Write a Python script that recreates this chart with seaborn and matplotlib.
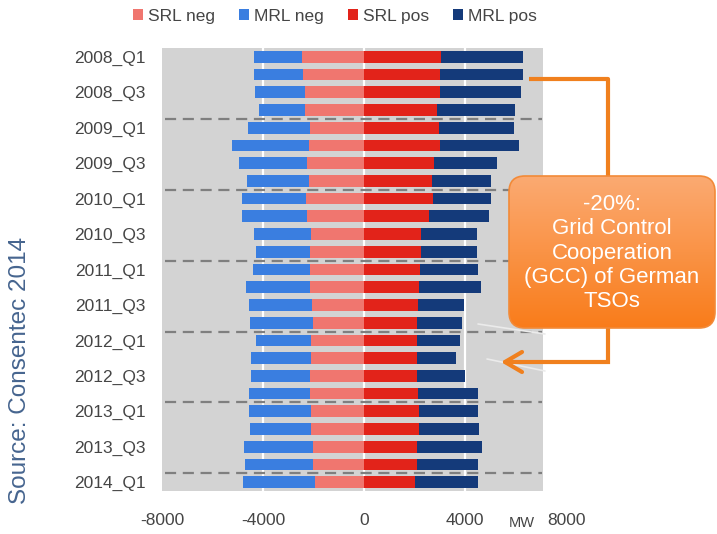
import numpy as np
import pandas as pd
import matplotlib
matplotlib.use("Agg")
import matplotlib.pyplot as plt
import seaborn as sns
from matplotlib.patches import FancyBboxPatch, Rectangle, Patch
from matplotlib.colors import LinearSegmentedColormap

# Quarterly balancing reserve (MW): negative reserve drawn left, positive right
quarters = ["2008_Q1", "2008_Q2", "2008_Q3", "2008_Q4",
            "2009_Q1", "2009_Q2", "2009_Q3", "2009_Q4",
            "2010_Q1", "2010_Q2", "2010_Q3", "2010_Q4",
            "2011_Q1", "2011_Q2", "2011_Q3", "2011_Q4",
            "2012_Q1", "2012_Q2", "2012_Q3", "2012_Q4",
            "2013_Q1", "2013_Q2", "2013_Q3", "2013_Q4",
            "2014_Q1"]
srl_neg = [-2470, -2420, -2350, -2320, -2150, -2180, -2240, -2190, -2310,
           -2260, -2110, -2150, -2140, -2140, -2050, -2020, -2100, -2110,
           -2130, -2150, -2110, -2100, -2030, -2010, -1950]
mrl_neg = [-1870, -1920, -1970, -1850, -2430, -3050, -2700, -2460, -2510,
           -2580, -2250, -2110, -2240, -2550, -2520, -2510, -2160, -2370,
           -2350, -2390, -2430, -2400, -2740, -2700, -2860]
srl_pos = [3050, 3020, 3000, 2880, 2960, 3000, 2770, 2680, 2720, 2560, 2260,
           2260, 2220, 2180, 2130, 2110, 2110, 2110, 2110, 2130, 2170, 2170,
           2110, 2110, 2030]
mrl_pos = [3230, 3260, 3220, 3100, 2970, 3130, 2500, 2350, 2310, 2390, 2220,
           2220, 2310, 2450, 1840, 1780, 1710, 1530, 1890, 2400, 2360, 2380,
           2580, 2400, 2470]
series_names = ["SRL neg", "MRL neg", "SRL pos", "MRL pos"]
series_colors = ["#F0766F", "#3A7EE0", "#E2231A", "#143A7A"]
xticks = [-8000, -4000, 0, 4000, 8000]
tick_labels = quarters[::2]

df = pd.DataFrame({
    "quarter": quarters,
    "srl_neg": srl_neg,
    "neg_total": np.add(srl_neg, mrl_neg),
    "srl_pos": srl_pos,
    "pos_total": np.add(srl_pos, mrl_pos),
})

sns.set_style("white")
plt.rcParams["font.family"] = ["Liberation Sans", "DejaVu Sans"]

W, H = 717, 534
fig = plt.figure(figsize=(W / 100, H / 100), dpi=100)
ax = fig.add_axes([162 / W, 1 - 491 / H, 404 / W, 443 / H])
ax.set_facecolor("white")

# grey plot field with white grid lines
ax.add_patch(Rectangle((-8000, -0.5), 15080, 25, color="#D3D3D3", zorder=0, lw=0))
ax.vlines([-4000, 0, 4000], -0.5, 24.5, color="white", lw=1.6, zorder=0.5)

# stacked bars: totals first, SRL share drawn over them
bar_w = 0.66
layers = [("neg_total", 1), ("srl_neg", 0), ("pos_total", 3), ("srl_pos", 2)]
for col, ci in layers:
    sns.barplot(data=df, x=col, y="quarter", orient="h", color=series_colors[ci],
                saturation=1, width=bar_w, ax=ax, zorder=2, linewidth=0)

# year separators
for yb in [3.5, 7.5, 11.5, 15.5, 19.5, 23.5]:
    ax.hlines(yb, -7900, 7050, colors="#7F7F7F", lw=1.6,
              linestyles=(0, (5, 3)), zorder=4)

ax.set_xlim(-8000, 8000)
ax.set_ylim(24.5, -0.5)
ax.set_xticks(xticks)
ax.set_xticklabels([str(t) for t in xticks])
ax.set_yticks(range(0, 25, 2))
ax.set_yticklabels(tick_labels)
ax.set_xlabel("")
ax.set_ylabel("")
for s in ax.spines.values():
    s.set_visible(False)
ax.tick_params(axis="both", length=0, labelsize=12.5, colors="#454545")
ax.tick_params(axis="y", pad=12)
ax.tick_params(axis="x", pad=16)

# legend
handles = [Patch(facecolor=c, edgecolor="none") for c in series_colors]
fig.legend(handles, series_names, loc="center", bbox_to_anchor=(335 / W, 1 - 16 / H),
           ncol=4, frameon=False, fontsize=12.5, handlelength=0.6,
           handleheight=0.6, handletextpad=0.3, columnspacing=1.35,
           labelcolor="#454545")

# overlay in pixel coordinates for annotations
ov = fig.add_axes([0, 0, 1, 1], zorder=10)
ov.set_facecolor("none")
ov.axis("off")

ov.text(20, 370, "Source: Consentec 2014", rotation=90, ha="center", va="center",
        fontsize=17.5, color="#46658F")
ov.text(522, 523, "MW", ha="center", va="center", fontsize=10.5, color="#454545")

# faint guide lines
ov.plot([478, 545], [324, 334], color="#EBEBEB", lw=1.2)
ov.plot([487, 545], [359, 371], color="#EBEBEB", lw=1.2)

orange = "#F0801E"
ov.plot([529, 608, 608], [79, 79, 176], color=orange, lw=3, solid_capstyle="butt")
ov.plot([608, 608, 505], [327, 362, 362], color=orange, lw=3, solid_joinstyle="miter")
ov.plot([522, 505, 522], [352, 362, 372], color=orange, lw=3, solid_capstyle="round")

box = FancyBboxPatch((509, 176), 206, 152, boxstyle="round,pad=0,rounding_size=16",
                     facecolor="none", edgecolor="#F28A38", lw=1.2, zorder=3)
ov.add_patch(box)
grad = np.linspace(0, 1, 256).reshape(-1, 1)
cmap = LinearSegmentedColormap.from_list("box", ["#FBAA72", "#F97C1A"])
im = ov.imshow(grad, cmap=cmap, aspect="auto", extent=[509, 715, 328, 176],
               origin="upper", zorder=2)
im.set_clip_path(box)
ov.text(612, 253, "-20%:\nGrid Control\nCooperation\n(GCC) of German\nTSOs",
        ha="center", va="center", fontsize=16, color="white", linespacing=1.2,
        zorder=4)

ov.set_xlim(0, W)
ov.set_ylim(H, 0)

fig.savefig("out.png", dpi=100)
